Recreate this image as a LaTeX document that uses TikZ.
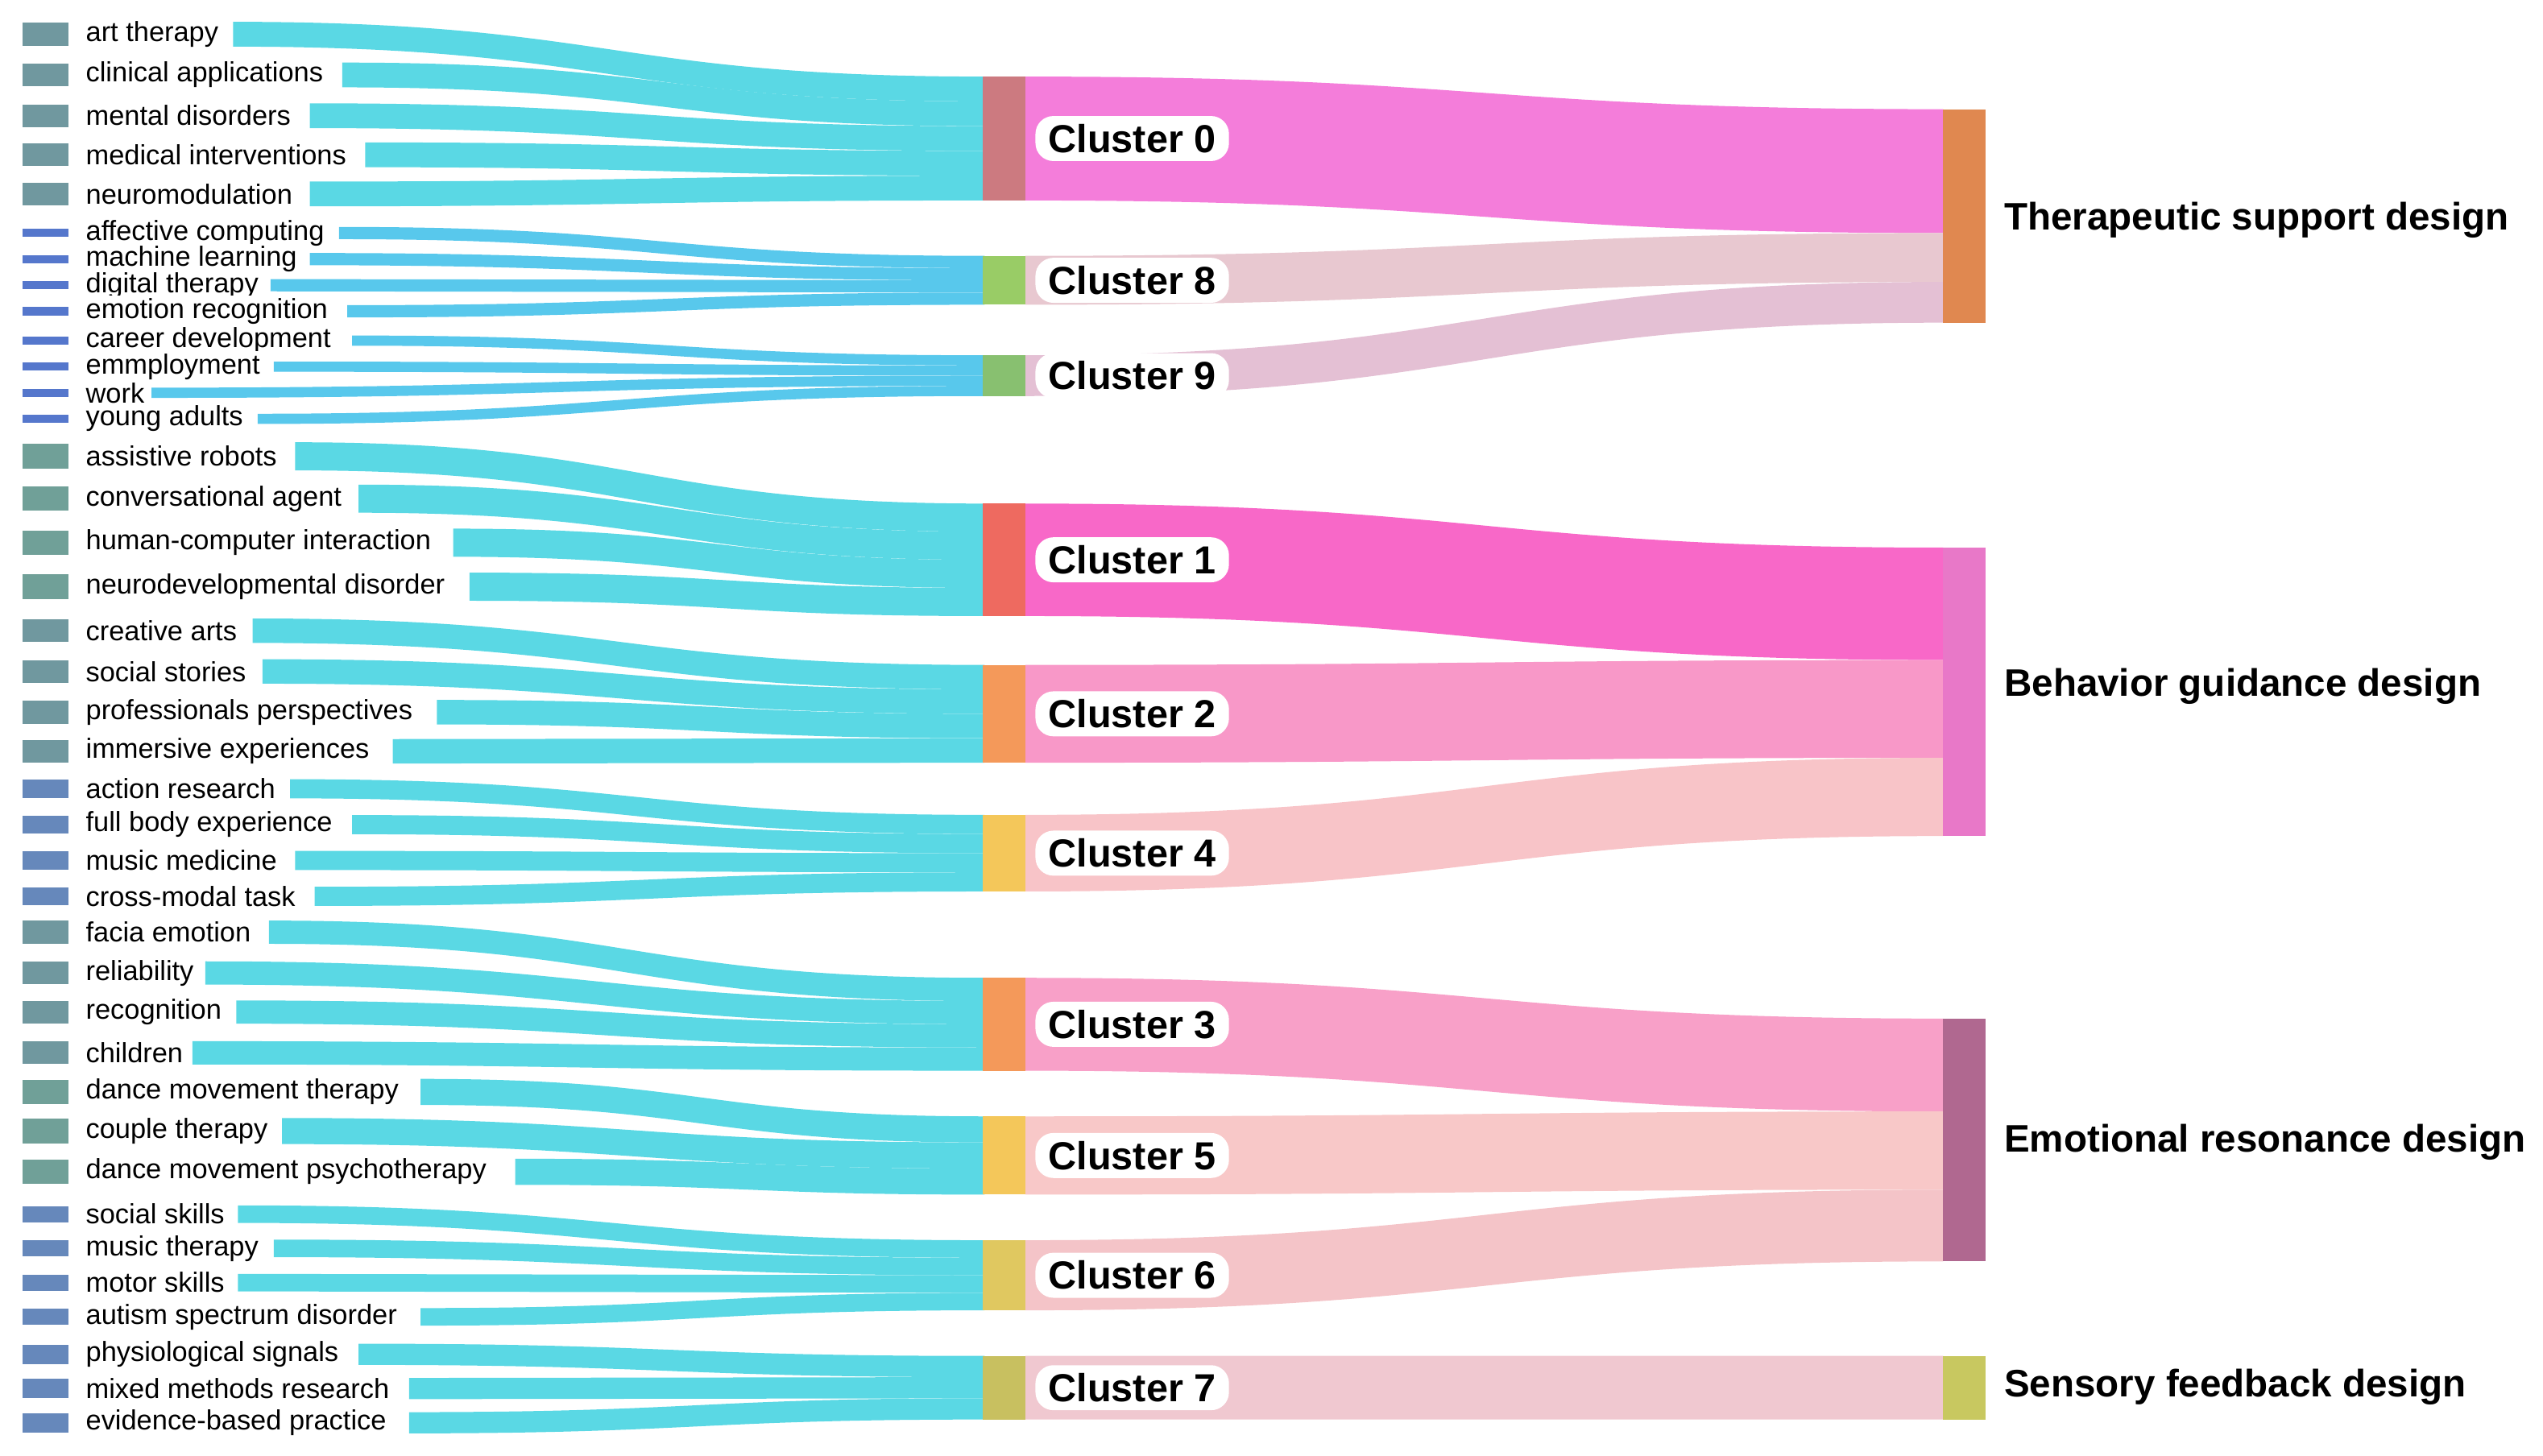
\documentclass[tikz,border=0pt]{standalone}
\usepackage{fontspec}
\setmainfont{Liberation Sans}
\definecolor{band}{HTML}{5AD8E4}
\definecolor{bandb}{HTML}{58C8EC}
\definecolor{rg}{HTML}{70989F}
\definecolor{rb}{HTML}{5577CC}
\definecolor{rm}{HTML}{6688BB}
\definecolor{rt}{HTML}{70A098}
\definecolor{f0}{HTML}{F47DDA}
\definecolor{f8}{HTML}{E8C8D0}
\definecolor{f9}{HTML}{E4C0D4}
\definecolor{f1}{HTML}{F868C8}
\definecolor{f2}{HTML}{F898C8}
\definecolor{f4}{HTML}{F8C4C8}
\definecolor{f3}{HTML}{F8A0C8}
\definecolor{f5}{HTML}{F8C8C8}
\definecolor{f6}{HTML}{F4C4C8}
\definecolor{f7}{HTML}{F0C8D0}
\definecolor{c0}{HTML}{CC7A80}
\definecolor{c8}{HTML}{99CC66}
\definecolor{c9}{HTML}{88C070}
\definecolor{c1}{HTML}{EE6A60}
\definecolor{c2}{HTML}{F4995A}
\definecolor{c4}{HTML}{F4C75A}
\definecolor{c6}{HTML}{E0C860}
\definecolor{c7}{HTML}{C8C060}
\definecolor{rT}{HTML}{E08850}
\definecolor{rB}{HTML}{E878C8}
\definecolor{rE}{HTML}{B06890}
\definecolor{rS}{HTML}{C8C860}
\newcommand{\myflow}[7]{%
  \pgfmathsetmacro{\xm}{(#1+#4)/2}%
  \fill[#7] (#1,#2) .. controls (\xm,#2) and (\xm,#5) .. (#4,#5) -- (#4,#6) .. controls (\xm,#6) and (\xm,#3) .. (#1,#3) -- cycle;}
% name, label y, xend, cluster top, width, index, rect colour, band colour, rect h
\newcommand{\kw}[9]{%
  \pgfmathsetmacro{\sa}{#2-#5/2}\pgfmathsetmacro{\sb}{#2+#5/2}%
  \pgfmathsetmacro{\ta}{#4+#6*#5}\pgfmathsetmacro{\tb}{#4+(#6+1)*#5}%
  \myflow{#3}{\sa}{\sb}{604}{\ta}{\tb}{#8}%
  \fill[#7] (14,#2-#9/2) rectangle (42,#2+#9/2);
  \node[kwl] at (51,#2) {#1};}
\newcommand{\clu}[5]{% top, bottom, colour, label, name
  \fill[#3] (603,#1) rectangle (629,#2);
  \node[cl] (#5) at (635,{(#1+#2)/2}) {#4};}
\begin{document}
\begin{tikzpicture}[x=1pt,y=-1pt,
  kwl/.style={anchor=west,fill=white,inner sep=1.5pt,font=\fontsize{17}{19}\selectfont},
  cl/.style={anchor=west,fill=white,rounded corners=11pt,inner xsep=8pt,inner ysep=5pt,font=\fontsize{24}{26}\selectfont\bfseries},
  rl/.style={anchor=west,font=\fontsize{23.5}{26}\selectfont\bfseries}]
\useasboundingbox (0,0) rectangle (1560,893);
% cluster -> category flows
\myflow{629}{47}{123}{1192}{67}{143}{f0}
\myflow{629}{157}{187}{1192}{143}{173}{f8}
\myflow{629}{218}{243}{1192}{173}{198}{f9}
\myflow{629}{309}{378}{1192}{336}{405}{f1}
\myflow{629}{408}{468}{1192}{405}{465}{f2}
\myflow{629}{500}{547}{1192}{465}{513}{f4}
\myflow{629}{600}{657}{1192}{625}{682}{f3}
\myflow{629}{685}{733}{1192}{682}{730}{f5}
\myflow{629}{761}{804}{1192}{730}{774}{f6}
\myflow{629}{832}{871}{1192}{832}{871}{f7}
% keywords
\kw{art therapy}{21}{143}{47}{15.2}{0}{rg}{band}{14}
\kw{clinical applications}{46}{210}{47}{15.2}{1}{rg}{band}{14}
\kw{mental disorders}{71}{190}{47}{15.2}{2}{rg}{band}{14}
\kw{medical interventions}{95}{224}{47}{15.2}{3}{rg}{band}{14}
\kw{neuromodulation}{119}{190}{47}{15.2}{4}{rg}{band}{14}
\kw{affective computing}{143}{208}{157}{7.5}{0}{rb}{bandb}{5}
\kw{machine learning}{159}{190}{157}{7.5}{1}{rb}{bandb}{5}
\kw{digital therapy}{175}{166}{157}{7.5}{2}{rb}{bandb}{5}
\kw{emotion recognition}{191}{213}{157}{7.5}{3}{rb}{bandb}{5}
\kw{career development}{209}{216}{218}{6.25}{0}{rb}{bandb}{5}
\kw{emmployment}{225}{168}{218}{6.25}{1}{rb}{bandb}{5}
\kw{work}{241}{93}{218}{6.25}{2}{rb}{bandb}{5}
\kw{young adults}{257}{158}{218}{6.25}{3}{rb}{bandb}{5}
\kw{assistive robots}{280}{181}{309}{17.25}{0}{rt}{band}{15}
\kw{conversational agent}{306}{220}{309}{17.25}{1}{rt}{band}{15}
\kw{human-computer interaction}{333}{278}{309}{17.25}{2}{rt}{band}{15}
\kw{neurodevelopmental disorder}{360}{288}{309}{17.25}{3}{rt}{band}{15}
\kw{creative arts}{387}{155}{408}{15}{0}{rg}{band}{14}
\kw{social stories}{412}{161}{408}{15}{1}{rg}{band}{14}
\kw{professionals perspectives}{437}{268}{408}{15}{2}{rg}{band}{14}
\kw{immersive experiences}{461}{241}{408}{15}{3}{rg}{band}{14}
\kw{action research}{484}{178}{500}{11.75}{0}{rm}{band}{11}
\kw{full body experience}{506}{216}{500}{11.75}{1}{rm}{band}{11}
\kw{music medicine}{528}{181}{500}{11.75}{2}{rm}{band}{11}
\kw{cross-modal task}{550}{193}{500}{11.75}{3}{rm}{band}{11}
\kw{facia emotion}{572}{165}{600}{14.25}{0}{rg}{band}{14}
\kw{reliability}{597}{126}{600}{14.25}{1}{rg}{band}{14}
\kw{recognition}{621}{145}{600}{14.25}{2}{rg}{band}{14}
\kw{children}{646}{118}{600}{14.25}{3}{rg}{band}{14}
\kw{dance movement therapy}{670}{258}{685}{16}{0}{rt}{band}{15}
\kw{couple therapy}{694}{173}{685}{16}{1}{rt}{band}{15}
\kw{dance movement psychotherapy}{719}{316}{685}{16}{2}{rt}{band}{15}
\kw{social skills}{745}{146}{761}{10.75}{0}{rm}{band}{10}
\kw{music therapy}{766}{168}{761}{10.75}{1}{rm}{band}{10}
\kw{motor skills}{787}{146}{761}{10.75}{2}{rm}{band}{10}
\kw{autism spectrum disorder}{808}{258}{761}{10.75}{3}{rm}{band}{10}
\kw{physiological signals}{831}{220}{832}{13}{0}{rm}{band}{12}
\kw{mixed methods research}{852}{251}{832}{13}{1}{rm}{band}{12}
\kw{evidence-based practice}{873}{251}{832}{13}{2}{rm}{band}{12}
% clusters
\clu{47}{123}{c0}{Cluster 0}{k0}
\clu{157}{187}{c8}{Cluster 8}{k8}
\clu{218}{243}{c9}{Cluster 9}{k9}
\clu{309}{378}{c1}{Cluster 1}{k1}
\clu{408}{468}{c2}{Cluster 2}{k2}
\clu{500}{547}{c4}{Cluster 4}{k4}
\clu{600}{657}{c2}{Cluster 3}{k3}
\clu{685}{733}{c4}{Cluster 5}{k5}
\clu{761}{804}{c6}{Cluster 6}{k6}
\clu{832}{871}{c7}{Cluster 7}{k7}
% categories
\fill[rT] (1192,67) rectangle (1218,198);
\fill[rB] (1192,336) rectangle (1218,513);
\fill[rE] (1192,625) rectangle (1218,774);
\fill[rS] (1192,832) rectangle (1218,871);
\node[rl] (T) at (1226,135) {Therapeutic support design};
\node[rl] (B) at (1226,421) {Behavior guidance design};
\node[rl] (E) at (1226,701) {Emotional resonance design};
\node[rl] (S) at (1226,851) {Sensory feedback design};
\end{tikzpicture}
\end{document}
